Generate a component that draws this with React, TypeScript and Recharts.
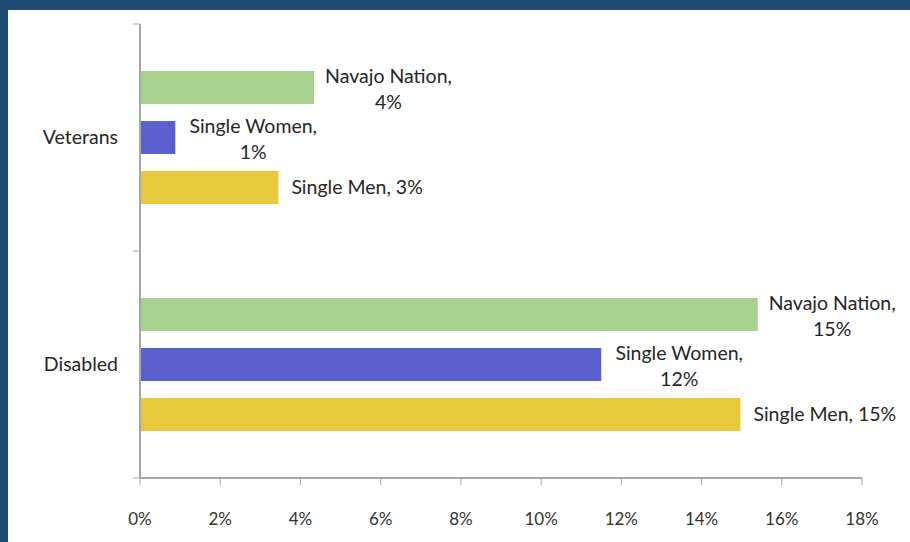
import React from 'react';
import { Bar, BarChart, XAxis, YAxis } from 'recharts';

const categories = ['Veterans', 'Disabled'];
const seriesNames = ['Navajo Nation', 'Single Women', 'Single Men'];
const navajoNation = [0.0434, 0.154];
const singleWomen = [0.0088, 0.115];
const singleMen = [0.0345, 0.1497];
const xTicks = [0, 0.02, 0.04, 0.06, 0.08, 0.1, 0.12, 0.14, 0.16, 0.18];

const data = categories.map((category, i) => ({
  category,
  navajo: navajoNation[i],
  women: singleWomen[i],
  men: singleMen[i],
}));

const W = 910;
const H = 542;
const M = { top: 24, right: 48, left: 0, bottom: 0 };
const Y_AXIS_W = 140;
const X_AXIS_H = 64;
const FONT = 'Lato, "Open Sans", sans-serif';
const LABEL_SIZE = 19.5;
const AXIS_COLOR = '#a6a6a6';

const pct = (v: number) => `${Math.round(v * 100)}%`;

let ctx: CanvasRenderingContext2D | null = null;
const measure = (s: string) => {
  if (!ctx) ctx = document.createElement('canvas').getContext('2d');
  if (!ctx) return s.length * LABEL_SIZE * 0.5;
  ctx.font = `${LABEL_SIZE}px ${FONT}`;
  return ctx.measureText(s).width;
};

// Excel-style data label: name, value to the right of the bar (wrapped when wrap = true)
const makeLabel = (name: string, wrap: boolean, gap: number) => (props: any) => {
  const { x, y, width, height, value } = props;
  const start = x + width + gap;
  const cy = y + height / 2;
  if (!wrap) {
    return (
      <text x={start} y={cy} dy="0.35em" fontSize={LABEL_SIZE} fontFamily={FONT} fill="#262626">
        {`${name}, ${pct(value)}`}
      </text>
    );
  }
  const first = `${name},`;
  const cx = start + measure(first) / 2;
  return (
    <text x={cx} y={cy} textAnchor="middle" fontSize={LABEL_SIZE} fontFamily={FONT} fill="#262626">
      <tspan x={cx} dy="-0.22em">{first}</tspan>
      <tspan x={cx} dy="1.3em">{pct(value)}</tspan>
    </text>
  );
};

const plotH = H - M.top - M.bottom - X_AXIS_H;
const halfBand = plotH / categories.length / 2;

const CategoryTick = (props: any) => {
  const { y, payload, index } = props;
  const ax = M.left + Y_AXIS_W;
  return (
    <g>
      <line x1={ax - 7} x2={ax} y1={y - halfBand} y2={y - halfBand} stroke={AXIS_COLOR} />
      {index === categories.length - 1 && (
        <line x1={ax - 7} x2={ax} y1={y + halfBand} y2={y + halfBand} stroke={AXIS_COLOR} />
      )}
      <text x={ax - 22} y={y} dy="0.35em" textAnchor="end" fontSize={19.5} fontFamily={FONT} fill="#262626">
        {payload.value}
      </text>
    </g>
  );
};

const App: React.FC = () => {
  return (
    <div style={{ position: 'absolute', left: 0, top: 0, width: W, height: H, background: '#fff' }}>
      <div style={{ position: 'absolute', left: 0, top: 0, width: W, height: 10, background: '#1f4a73' }} />
      <div style={{ position: 'absolute', left: 0, top: 0, width: 8, height: H, background: '#1f4a73' }} />
      <div style={{ position: 'absolute', left: 0, top: 0 }}>
        <BarChart
          width={W}
          height={H}
          data={data}
          layout="vertical"
          margin={M}
          barCategoryGap={47}
          barGap={17}
        >
          <XAxis
            type="number"
            domain={[0, 0.18]}
            ticks={xTicks}
            interval={0}
            tickFormatter={pct}
            height={X_AXIS_H}
            tickSize={7}
            tickMargin={28}
            axisLine={{ stroke: AXIS_COLOR, strokeWidth: 2 }}
            tickLine={{ stroke: AXIS_COLOR }}
            tick={{ fill: '#333', fontSize: 17, fontFamily: FONT }}
          />
          <YAxis
            type="category"
            dataKey="category"
            width={Y_AXIS_W}
            tickLine={false}
            axisLine={{ stroke: AXIS_COLOR, strokeWidth: 2 }}
            tick={<CategoryTick />}
          />
          <Bar dataKey="navajo" name={seriesNames[0]} fill="#a8d08f" isAnimationActive={false}
            label={makeLabel(seriesNames[0], true, 11)} />
          <Bar dataKey="women" name={seriesNames[1]} fill="#5b60cf" isAnimationActive={false}
            label={makeLabel(seriesNames[1], true, 14)} />
          <Bar dataKey="men" name={seriesNames[2]} fill="#e7c93b" isAnimationActive={false}
            label={makeLabel(seriesNames[2], false, 13)} />
        </BarChart>
      </div>
    </div>
  );
};

export default App;
